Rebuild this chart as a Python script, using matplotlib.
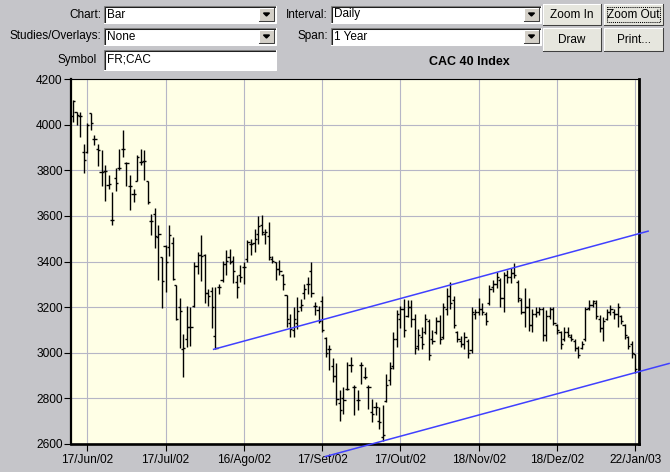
import matplotlib
matplotlib.use("Agg")
import matplotlib.pyplot as plt
import numpy as np
from matplotlib.patches import Polygon, Rectangle

# CAC 40 daily bars, one entry per trading day (11/Jun/02 .. 22/Jan/03)
HIGH = [4107, 4056, 4056, 3917, 4008, 4049, 3954, 3913, 3888, 3822,
        3778, 3704, 3808, 3895, 3976, 3837, 3778, 3716, 3865, 3895,
        3888, 3752, 3610, 3635, 3559, 3419, 3471, 3559, 3507, 3297,
        3240, 3084, 3205, 3200, 3397, 3441, 3515, 3434, 3279, 3289,
        3289, 3301, 3404, 3449, 3456, 3426, 3339, 3383, 3398, 3493,
        3500, 3544, 3599, 3603, 3544, 3574, 3425, 3398, 3405, 3347,
        3251, 3171, 3200, 3244, 3237, 3303, 3332, 3400, 3221, 3203,
        3247, 3071, 3034, 2975, 2953, 2835, 2850, 2960, 2982, 2857,
        2835, 2960, 2938, 2857, 2799, 2784, 2762, 2769, 2909, 2960,
        3090, 3186, 3205, 3237, 3230, 3230, 3172, 3106, 3113, 3172,
        3150, 3098, 3157, 3164, 3220, 3282, 3311, 3250, 3097, 3075,
        3090, 3060, 3200, 3193, 3238, 3216, 3179, 3297, 3319, 3356,
        3326, 3356, 3363, 3370, 3393, 3319, 3238, 3282, 3238, 3193,
        3200, 3200, 3200, 3186, 3200, 3200, 3127, 3097, 3112, 3112,
        3083, 3060, 3031, 3053, 3200, 3230, 3230, 3230, 3164, 3156,
        3193, 3208, 3193, 3216, 3164, 3127, 3075, 3053, 2994]
LOW = [4012, 3998, 3945, 3786, 3876, 3976, 3910, 3819, 3733, 3664,
       3720, 3562, 3707, 3800, 3856, 3730, 3625, 3661, 3752, 3822,
       3756, 3654, 3515, 3457, 3319, 3194, 3265, 3426, 3321, 3144,
       3022, 2894, 3026, 3030, 3199, 3346, 3316, 3220, 3205, 3110,
       3015, 3257, 3309, 3341, 3390, 3306, 3241, 3310, 3300, 3398,
       3427, 3442, 3478, 3515, 3478, 3405, 3395, 3317, 3339, 3273,
       3112, 3068, 3068, 3105, 3185, 3237, 3259, 3245, 3166, 3129,
       3093, 2982, 2924, 2872, 2769, 2703, 2732, 2838, 2916, 2725,
       2747, 2865, 2887, 2754, 2696, 2725, 2666, 2615, 2782, 2860,
       2930, 3025, 3110, 3070, 3157, 3113, 2996, 3011, 3018, 3084,
       2967, 3040, 3084, 3038, 3060, 3164, 3193, 3110, 3046, 3024,
       3016, 2979, 3000, 3149, 3164, 3164, 3120, 3208, 3267, 3282,
       3200, 3179, 3304, 3304, 3326, 3223, 3171, 3112, 3097, 3090,
       3156, 3164, 3053, 3053, 3149, 3120, 3083, 3016, 3053, 3068,
       3053, 3009, 2979, 3016, 3053, 3186, 3200, 3149, 3090, 3053,
       3142, 3164, 3149, 3112, 3127, 3060, 3016, 2979, 2913]
OPEN = [4037, 4056, 4040, 3880, 3881, 4049, 3935, 3892, 3793, 3796,
        3735, 3584, 3764, 3812, 3895, 3830, 3730, 3698, 3752, 3837,
        3842, 3752, 3577, 3610, 3507, 3419, 3468, 3463, 3480, 3297,
        3200, 3015, 3060, 3115, 3206, 3380, 3430, 3430, 3260, 3272,
        3074, 3287, 3320, 3390, 3420, 3404, 3310, 3340, 3376, 3410,
        3478, 3480, 3520, 3560, 3520, 3510, 3410, 3400, 3369, 3340,
        3251, 3130, 3100, 3130, 3200, 3260, 3300, 3360, 3203, 3188,
        3225, 3063, 3015, 2940, 2900, 2780, 2800, 2843, 2946, 2850,
        2791, 2946, 2894, 2850, 2740, 2762, 2700, 2630, 2790, 2880,
        2940, 3060, 3150, 3190, 3160, 3200, 3150, 3030, 3070, 3090,
        3140, 3060, 3090, 3140, 3070, 3190, 3250, 3230, 3090, 3050,
        3040, 3050, 3010, 3170, 3180, 3190, 3170, 3220, 3290, 3300,
        3320, 3240, 3340, 3330, 3350, 3310, 3230, 3180, 3200, 3120,
        3170, 3180, 3190, 3080, 3160, 3190, 3120, 3090, 3060, 3090,
        3070, 3050, 3020, 3020, 3060, 3195, 3210, 3220, 3150, 3110,
        3150, 3180, 3180, 3170, 3160, 3120, 3070, 3040, 2994]
CLOSE = [4105, 4042, 4040, 3844, 4000, 4008, 3935, 3890, 3793, 3796,
         3740, 3584, 3745, 3812, 3895, 3830, 3730, 3698, 3860, 3837,
         3840, 3660, 3577, 3510, 3520, 3316, 3400, 3515, 3324, 3150,
         3184, 3020, 3115, 3115, 3380, 3430, 3426, 3260, 3250, 3200,
         3020, 3290, 3390, 3404, 3400, 3360, 3290, 3332, 3376, 3486,
         3478, 3500, 3555, 3530, 3530, 3420, 3402, 3369, 3360, 3300,
         3150, 3105, 3150, 3185, 3210, 3280, 3303, 3260, 3203, 3140,
         3100, 3000, 3015, 2897, 2799, 2747, 2791, 2843, 2946, 2850,
         2791, 2946, 2894, 2850, 2732, 2762, 2696, 2640, 2860, 2935,
         3060, 3170, 3190, 3100, 3200, 3150, 3020, 3080, 3040, 3150,
         2990, 3050, 3140, 3060, 3200, 3250, 3220, 3120, 3060, 3040,
         3070, 3000, 3180, 3180, 3190, 3180, 3140, 3280, 3300, 3330,
         3240, 3340, 3330, 3350, 3340, 3240, 3180, 3200, 3120, 3170,
         3180, 3190, 3080, 3160, 3190, 3130, 3100, 3040, 3090, 3080,
         3060, 3020, 2990, 3040, 3190, 3210, 3225, 3160, 3110, 3140,
         3180, 3190, 3170, 3200, 3140, 3080, 3030, 3000, 2930]

TICK_DAYS = [4, 26, 48, 70, 92, 114, 136, 158]
TICK_LABELS = ["17/Jun/02", "17/Jul/02", "16/Ago/02", "17/Set/02",
               "17/Out/02", "18/Nov/02", "18/Dez/02", "22/Jan/03"]
PRICE_TICKS = [2600, 2800, 3000, 3200, 3400, 3600, 3800, 4000, 4200]

# hand-drawn channel (day index, price) at both ends
UPPER_TREND_X = [39.5, 161.6]
UPPER_TREND_Y = [3015, 3533]
LOWER_TREND_X = [70.9, 167.5]
LOWER_TREND_Y = [2545, 2953]

W, H = 670, 472
WINDOW_BG = "#c5c5c9"
PLOT_BG = "#ffffe6"
GRID = "#b6b6c6"
TREND = "#4040ff"
UI_FS = 8.5

plt.rcParams["font.family"] = ["Liberation Sans", "DejaVu Sans"]

fig = plt.figure(figsize=(W / 100, H / 100), dpi=100, facecolor=WINDOW_BG)

# toolbar drawn in pixel coordinates, origin top left
ui = fig.add_axes([0, 0, 1, 1])
ui.set_xlim(0, W)
ui.set_ylim(H, 0)
ui.axis("off")


def sunken(x0, y0, x1, y1):
    ui.add_patch(Rectangle((x0, y0), x1 - x0, y1 - y0, facecolor="white", edgecolor="none"))
    ui.plot([x0, x0, x1], [y1, y0, y0], color="#808080", lw=0.75)
    ui.plot([x0 + 1, x0 + 1, x1 - 1], [y1 - 1, y0 + 1, y0 + 1], color="#202020", lw=0.75)
    ui.plot([x0, x1, x1], [y1, y1, y0], color="white", lw=0.75)


def dropdown(x1, y0, y1):
    bx0, bx1 = x1 - 17, x1 - 2
    ui.add_patch(Rectangle((bx0, y0 + 2), bx1 - bx0, y1 - y0 - 4,
                           facecolor="#d4d0c8", edgecolor="none"))
    ui.plot([bx0, bx0, bx1], [y1 - 2, y0 + 2, y0 + 2], color="white", lw=0.75)
    ui.plot([bx0, bx1, bx1], [y1 - 2, y1 - 2, y0 + 2], color="#404040", lw=0.75)
    cx, cy = (bx0 + bx1) / 2, (y0 + y1) / 2
    ui.add_patch(Polygon([(cx - 3, cy - 1.5), (cx + 3, cy - 1.5), (cx, cy + 1.5)],
                         closed=True, color="black"))


def button(x0, y0, x1, y1, label, focus=False):
    ui.add_patch(Rectangle((x0, y0), x1 - x0, y1 - y0, facecolor="#e6e6de", edgecolor="none"))
    ui.plot([x0, x0, x1], [y1, y0, y0], color="white", lw=0.75)
    ui.plot([x0, x1, x1], [y1, y1, y0], color="#404040", lw=0.75)
    ui.text((x0 + x1) / 2, (y0 + y1) / 2 + 0.5, label, ha="center", va="center", fontsize=UI_FS)
    if focus:
        ui.add_patch(Rectangle((x0 + 3, y0 + 3), x1 - x0 - 6, y1 - y0 - 6, fill=False,
                               ls=(0, (1, 1)), lw=0.75, ec="black"))


for label, value, y0, y1 in [("Chart:", "Bar", 6, 23), ("Studies/Overlays:", "None", 28, 45)]:
    ui.text(101, (y0 + y1) / 2, label, ha="right", va="center", fontsize=UI_FS)
    sunken(104, y0, 276, y1)
    dropdown(276, y0, y1)
    ui.text(107, (y0 + y1) / 2, value, ha="left", va="center", fontsize=UI_FS)

ui.text(97, 60, "Symbol", ha="right", va="center", fontsize=UI_FS)
sunken(104, 50, 276, 70)
ui.text(107, 60, "FR;CAC", ha="left", va="center", fontsize=UI_FS)

for label, value, y0, y1 in [("Interval:", "Daily", 6, 23), ("Span:", "1 Year", 28, 45)]:
    ui.text(328, (y0 + y1) / 2, label, ha="right", va="center", fontsize=UI_FS)
    sunken(331, y0, 541, y1)
    dropdown(541, y0, y1)
    ui.text(334, (y0 + y1) / 2, value, ha="left", va="center", fontsize=UI_FS)

button(543, 4, 601, 25, "Zoom In")
button(604, 4, 663, 25, "Zoom Out", focus=True)
button(543, 28, 601, 51, "Draw")
button(604, 28, 663, 51, "Print...")

ui.text(469, 62, "CAC 40 Index", ha="center", va="center", fontsize=9, fontweight="bold")

# price chart
ax = fig.add_axes([71 / W, 1 - 444 / H, 567.5 / W, 365 / H], facecolor=PLOT_BG)
ax.set_zorder(2)

days = np.arange(len(HIGH))
ax.vlines(days, LOW, HIGH, color="black", lw=1.0)
ax.hlines(OPEN, days - 0.6, days, color="black", lw=1.0)
ax.hlines(CLOSE, days, days + 0.6, color="black", lw=1.0)

ax.plot(UPPER_TREND_X, UPPER_TREND_Y, color=TREND, lw=1.1, clip_on=False, zorder=6)
ax.plot(LOWER_TREND_X, LOWER_TREND_Y, color=TREND, lw=1.1, clip_on=False, zorder=6)

ax.set_xlim(-0.575, 158.9)
ax.set_ylim(2600, 4200)
ax.set_xticks(TICK_DAYS)
ax.set_xticklabels(TICK_LABELS)
ax.set_yticks(PRICE_TICKS)
ax.grid(True, color=GRID, lw=0.8)
ax.set_axisbelow(True)

ax.spines["left"].set_linewidth(1.6)
ax.spines["bottom"].set_linewidth(1.9)
ax.spines["right"].set_linewidth(2.0)
ax.spines["top"].set_linewidth(0.8)
ax.tick_params(axis="y", direction="out", length=5, width=0.8, pad=1, labelsize=8.6)
ax.tick_params(axis="x", direction="out", length=5, width=0.8, pad=2, labelsize=8.6)

fig.savefig("out.png", dpi=100, facecolor=WINDOW_BG)
